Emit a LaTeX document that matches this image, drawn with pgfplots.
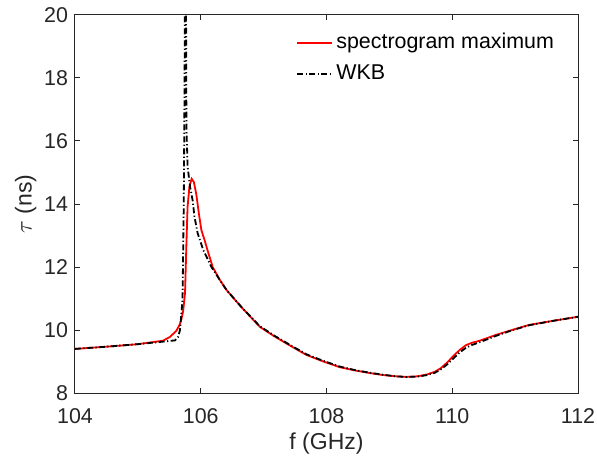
\documentclass[border=0pt]{standalone}
\usepackage{pgfplots}
\pgfplotsset{compat=1.18}
\usepackage{fontspec}
\setmainfont{Liberation Sans}
\definecolor{axgray}{HTML}{262626}
\begin{document}
\begin{tikzpicture}
\begin{axis}[
  scale only axis,
  width=251.5bp, height=189bp,
  xmin=104, xmax=112, ymin=8, ymax=20,
  xtick={104,106,108,110,112},
  ytick={8,10,12,14,16,18,20},
  tick align=inside,
  major tick length=2.6bp,
  axis line style={axgray, line width=0.5bp},
  tick style={axgray, line width=0.5bp},
  every tick label/.append style={font=\fontsize{10.7bp}{12bp}\selectfont, text=axgray},
  /pgf/number format/assume math mode=true,
  /pgf/number format/1000 sep={},
  xlabel={f (GHz)}, ylabel={$\tau$ (ns)},
  label style={font=\fontsize{11.5bp}{13bp}\selectfont, text=axgray},
  xticklabel style={yshift=-4.5bp},
  xlabel style={yshift=2.5bp},
  ylabel style={yshift=-3bp},
  legend style={draw=none, fill=none, at={(0.965,0.968)}, anchor=north east,
    font=\fontsize{10.7bp}{12bp}\selectfont, row sep=2.5bp, inner sep=1bp},
  legend cell align=left,
  clip=true,
]
\addplot[red, line width=0.9bp] coordinates {
(104,9.40) (104.5,9.47) (105,9.55) (105.40,9.66) (105.51,9.78) (105.61,9.97)
(105.66,10.15) (105.69,10.32) (105.72,10.6) (105.75,11.17) (105.77,12.6)
(105.79,13.9) (105.82,14.55) (105.855,14.8) (105.89,14.7) (105.93,14.3) (105.97,13.7)
(106.01,13.17) (106.06,12.86) (106.12,12.45) (106.19,12.0) (106.30,11.6) (106.41,11.27)
(106.65,10.72) (106.94,10.1) (107.17,9.80) (107.46,9.46) (107.68,9.21)
(107.95,9.00) (108.21,8.82) (108.47,8.71) (108.73,8.62) (108.90,8.57) (109.1,8.53) (109.27,8.51) (109.45,8.53) (109.6,8.59)
(109.72,8.67) (109.82,8.79) (109.92,8.97) (110.02,9.18) (110.12,9.37) (110.22,9.52) (110.32,9.60) (110.42,9.65)
(110.55,9.74) (110.69,9.84) (110.95,10.0) (111.22,10.16) (111.6,10.29) (112,10.42)
};
\addlegendentry{spectrogram maximum}
\addplot[black, line width=0.9bp, dash pattern=on 3bp off 1.2bp on 0.6bp off 1.2bp] coordinates {
(104,9.40) (104.5,9.47) (105,9.55) (105.59,9.67) (105.64,9.78) (105.67,10.0)
(105.71,10.95) (105.73,14) (105.74,17) (105.75,21)
(105.765,21) (105.77,17.5) (105.775,16.25) (105.785,15.6) (105.79,15.2)
(105.83,14.55) (105.87,14.13) (105.90,13.6) (105.95,13.08) (106.04,12.54)
(106.17,12.0) (106.30,11.6) (106.41,11.27) (106.65,10.72) (106.94,10.12) (107.17,9.82)
(107.46,9.48) (107.68,9.23) (107.95,9.02) (108.21,8.84) (108.47,8.72) (108.73,8.63) (108.90,8.58)
(109.1,8.53) (109.27,8.51) (109.45,8.52) (109.6,8.57) (109.72,8.64) (109.82,8.75) (109.92,8.91) (110.02,9.10)
(110.12,9.29) (110.22,9.44) (110.32,9.53) (110.42,9.60) (110.55,9.70) (110.69,9.81) (110.95,9.99) (111.22,10.15) (111.6,10.29) (112,10.42)
};
\addlegendentry{WKB}
\end{axis}
\pgfresetboundingbox
\path (-37.5bp,-36.5bp) rectangle (261bp,196.5bp);
\end{tikzpicture}
\end{document}
